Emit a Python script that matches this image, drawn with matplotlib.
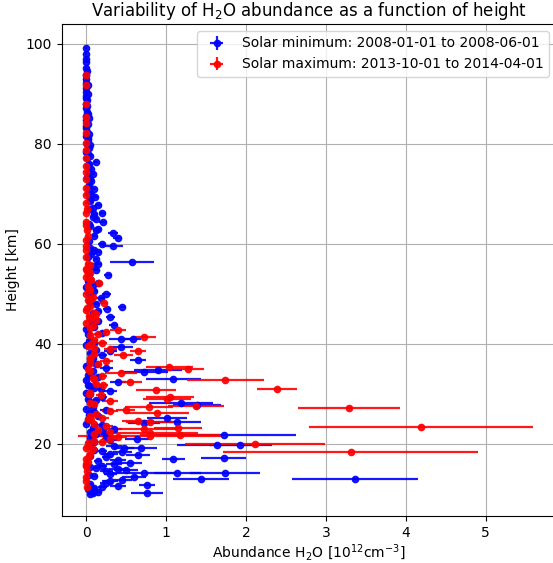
import matplotlib
matplotlib.use('Agg')
import matplotlib.pyplot as plt

# solar minimum profile points: height [km], abundance, abundance error
min_h = [99.2, 97.0, 96.4, 95.2, 93.8, 93.0, 92.2, 91.2, 90.4, 89.6,
         88.8, 88.0, 87.2, 86.4, 85.6, 84.8, 84.0, 83.2, 82.4, 81.6,
         80.8, 80.0, 79.2, 78.4, 77.6, 76.4, 75.8, 75.0, 74.2, 73.4,
         72.6, 71.8, 71.0, 70.2, 69.4, 68.6, 67.8, 67.0, 66.2, 65.4,
         64.4, 63.6, 62.8, 62.2, 61.2, 60.6, 59.6, 58.8, 58.0, 90.0,
         86.0, 82.0, 78.0, 74.0, 70.0, 66.0, 63.0, 61.5, 60.0, 57.4,
         56.4, 55.6, 54.8, 53.8, 53.0, 52.2, 51.4, 50.6, 50.0, 49.2,
         48.4, 47.4, 47.0, 46.2, 45.4, 44.6, 43.8, 43.0, 42.2, 41.0,
         41.0, 40.2, 39.4, 38.6, 37.8, 36.8, 36.0, 58.4, 55.0, 52.6,
         50.2, 48.0, 45.0, 43.4, 42.0, 39.8, 38.2, 37.2, 35.2, 34.8,
         34.4, 34.0, 33.4, 33.0, 32.4, 31.8, 31.2, 30.6, 30.0, 29.4,
         28.8, 28.2, 27.8, 27.4, 26.8, 26.2, 25.6, 25.2, 24.8, 24.4,
         24.2, 23.6, 23.0, 22.4, 21.8, 21.6, 21.0, 20.4, 19.8, 19.8,
         19.2, 19.2, 18.6, 18.0, 17.8, 17.2, 17.0, 16.6, 16.0, 15.4,
         15.0, 14.6, 14.2, 14.2, 14.2, 13.6, 13.0, 13.0, 12.6, 12.0,
         11.8, 11.4, 11.0, 10.6, 10.2, 10.0, 35.6, 34.6, 32.8, 31.6,
         30.2, 29.0, 27.0, 25.8, 24.0, 23.2, 22.6, 22.0, 20.8, 20.0,
         19.6, 18.4, 17.6, 16.8, 16.2, 15.6, 14.8, 14.0, 13.4, 12.8,
         12.2, 11.6, 10.8, 10.4]
min_x = [0.00, 0.00, 0.00, 0.00, 0.00, -0.01, 0.00, 0.00, -0.01, 0.00,
         0.01, -0.01, 0.00, 0.01, 0.00, -0.01, 0.02, 0.00, 0.01, -0.01,
         0.02, 0.01, 0.03, 0.00, 0.05, 0.12, 0.02, 0.06, 0.03, 0.01,
         0.06, 0.03, 0.09, 0.02, 0.11, 0.05, 0.15, 0.04, 0.20, 0.08,
         0.21, 0.05, 0.12, 0.33, 0.39, 0.03, 0.33, 0.10, 0.06, 0.02,
         0.02, 0.03, 0.02, 0.08, 0.06, 0.10, 0.15, 0.10, 0.20, 0.02,
         0.57, 0.08, 0.12, 0.27, 0.05, 0.15, 0.00, 0.10, 0.25, 0.18,
         0.05, 0.45, 0.26, 0.08, 0.30, 0.15, 0.34, 0.00, 0.20, 0.43,
         0.58, 0.10, 0.43, 0.30, 0.20, 0.64, 0.12, 0.15, 0.02, 0.02,
         0.03, 0.12, 0.05, 0.10, 0.02, 0.00, 0.05, 0.08, 0.25, 0.90,
         0.72, 0.05, 0.15, 1.09, 0.40, 0.02, 0.10, 0.30, 0.05, 0.20,
         0.12, 1.18, 1.39, 0.08, 0.25, 0.05, 0.15, 1.01, 0.02, 1.14,
         0.72, 0.10, 0.35, 0.05, 1.72, 0.25, 0.63, 0.10, 1.64, 1.93,
         0.68, 0.47, 0.20, 0.30, 0.65, 1.72, 1.09, 0.15, 0.35, 0.05,
         0.40, 0.25, 0.72, 1.14, 1.74, 0.10, 1.43, 3.36, 0.30, 0.05,
         0.76, 0.20, 0.02, 0.10, 0.76, 0.04, 0.00, 0.08, 0.00, 0.05,
         0.00, 0.02, 0.00, 0.03, 0.00, 0.08, 0.20, 0.12, 0.30, 0.05,
         0.35, 0.45, 0.05, 0.40, 0.55, 0.20, 0.50, 0.30, 0.60, 0.45,
         0.25, 0.40, 0.05, 0.15]
min_err = [0.01, 0.01, 0.01, 0.01, 0.01, 0.01, 0.01, 0.01, 0.01, 0.01,
           0.01, 0.01, 0.01, 0.01, 0.01, 0.01, 0.01, 0.01, 0.01, 0.01,
           0.01, 0.01, 0.02, 0.01, 0.02, 0.03, 0.01, 0.02, 0.02, 0.01,
           0.02, 0.02, 0.03, 0.01, 0.03, 0.02, 0.04, 0.02, 0.04, 0.03,
           0.05, 0.02, 0.04, 0.06, 0.06, 0.02, 0.13, 0.04, 0.03, 0.01,
           0.01, 0.01, 0.01, 0.03, 0.02, 0.03, 0.04, 0.03, 0.05, 0.01,
           0.28, 0.03, 0.04, 0.05, 0.02, 0.05, 0.01, 0.04, 0.06, 0.05,
           0.02, 0.05, 0.05, 0.03, 0.06, 0.05, 0.06, 0.01, 0.06, 0.15,
           0.10, 0.04, 0.15, 0.08, 0.06, 0.10, 0.04, 0.04, 0.01, 0.01,
           0.01, 0.04, 0.02, 0.03, 0.01, 0.01, 0.02, 0.03, 0.08, 0.30,
           0.30, 0.02, 0.05, 0.35, 0.10, 0.01, 0.04, 0.08, 0.02, 0.06,
           0.04, 0.40, 0.30, 0.03, 0.08, 0.02, 0.05, 0.25, 0.01, 0.30,
           0.20, 0.04, 0.10, 0.02, 0.90, 0.08, 0.15, 0.04, 0.50, 0.40,
           0.20, 0.12, 0.06, 0.10, 0.15, 0.28, 0.14, 0.05, 0.10, 0.02,
           0.12, 0.08, 0.40, 0.30, 0.44, 0.04, 0.35, 0.79, 0.10, 0.02,
           0.10, 0.06, 0.01, 0.04, 0.20, 0.02, 0.01, 0.03, 0.01, 0.02,
           0.01, 0.01, 0.01, 0.01, 0.01, 0.03, 0.06, 0.04, 0.08, 0.02,
           0.10, 0.12, 0.02, 0.10, 0.15, 0.06, 0.15, 0.08, 0.15, 0.12,
           0.08, 0.10, 0.02, 0.05]

# extra solar minimum points in the dense column near zero
min_col_h = [98.0, 94.6, 91.8, 89.2, 87.6, 85.2, 83.6, 81.2, 79.8, 77.2,
             76.0, 73.0, 71.4, 69.0, 67.2, 65.0, 64.0, 59.2, 57.0, 56.0,
             54.2, 51.8, 49.6, 46.6, 44.2, 40.6, 38.8, 36.4, 33.8, 31.0,
             28.4, 26.4, 23.8, 21.2, 18.8, 17.4, 15.2, 13.8, 11.2, 10.2]
min_col_x = [0.00, 0.01, 0.02, 0.00, 0.01, 0.03, 0.00, 0.02, 0.04, 0.01,
             0.03, 0.04, 0.02, 0.05, 0.08, 0.12, 0.03, 0.05, 0.12, 0.15,
             0.03, 0.08, 0.06, 0.14, 0.07, 0.03, 0.12, 0.04, 0.02, 0.18,
             0.05, 0.10, 0.20, 0.05, 0.10, 0.25, 0.12, 0.03, 0.10, 0.08]
min_col_err = [0.01, 0.01, 0.01, 0.01, 0.01, 0.01, 0.01, 0.01, 0.01, 0.01,
               0.01, 0.02, 0.01, 0.02, 0.02, 0.03, 0.01, 0.02, 0.03, 0.04,
               0.01, 0.02, 0.02, 0.04, 0.02, 0.01, 0.03, 0.02, 0.01, 0.05,
               0.02, 0.03, 0.05, 0.02, 0.03, 0.06, 0.03, 0.01, 0.03, 0.02]

# solar maximum profile points
max_h = [93.8, 91.8, 85.4, 84.2, 82.2, 78.8, 77.2, 75.6, 74.4, 71.2,
         69.8, 68.2, 66.2, 64.4, 63.8, 62.8, 60.8, 58.8, 57.4, 56.0,
         55.0, 54.2, 53.4, 52.2, 51.6, 50.8, 50.0, 49.4, 48.8, 48.2,
         47.6, 46.8, 46.2, 45.6, 44.8, 44.2, 43.6, 42.8, 42.4, 41.8,
         41.4, 40.8, 40.2, 39.6, 39.0, 38.6, 38.0, 37.8, 37.2, 36.6,
         36.0, 35.4, 35.0, 34.6, 34.2, 33.6, 33.0, 32.8, 32.4, 31.8,
         31.0, 30.8, 30.2, 29.4, 29.0, 28.6, 28.0, 27.6, 27.4, 27.2,
         26.8, 26.2, 25.6, 25.2, 24.6, 24.4, 24.0, 23.4, 23.2, 23.0,
         22.4, 22.2, 21.8, 21.6, 21.4, 21.0, 20.6, 20.0, 19.6, 18.4,
         18.0, 17.0, 15.6, 13.4, 11.4, 53.0, 49.0, 45.0, 40.0, 37.0,
         33.2, 30.0, 26.0, 24.8, 22.8, 20.4, 19.0, 16.4]
max_x = [0.00, 0.00, 0.00, 0.00, -0.01, 0.00, 0.00, -0.01, 0.00, -0.01,
         0.00, 0.00, -0.01, 0.00, 0.00, 0.01, 0.00, -0.01, 0.00, 0.02,
         0.00, 0.05, 0.00, 0.16, 0.02, 0.05, 0.00, 0.08, 0.02, 0.22,
         0.05, 0.00, 0.10, 0.03, 0.12, 0.00, 0.08, 0.40, 0.24, 0.05,
         0.72, 0.10, 0.20, 0.02, 0.30, 0.65, 0.10, 0.46, 0.05, 0.25,
         0.15, 1.04, 1.27, 0.05, 0.43, 0.20, 0.10, 1.74, 0.55, 0.21,
         2.39, 0.87, 0.05, 1.05, 1.01, 0.30, 0.10, 1.37, 0.78, 3.29,
         0.49, 0.89, 0.05, 0.20, 0.65, 0.80, 0.10, 4.19, 1.15, 0.72,
         0.30, 0.80, 1.17, 0.80, 0.39, 0.30, 0.10, 2.11, 0.02, 3.31,
         0.05, 0.00, -0.01, 0.00, 0.01, 0.03, 0.06, 0.04, 0.06, 0.04,
         0.08, 0.03, 0.12, 0.06, 0.15, 0.20, 0.08, 0.02]
max_err = [0.01, 0.01, 0.01, 0.01, 0.01, 0.01, 0.01, 0.01, 0.01, 0.01,
           0.01, 0.01, 0.01, 0.01, 0.01, 0.01, 0.01, 0.01, 0.01, 0.02,
           0.01, 0.02, 0.01, 0.04, 0.01, 0.02, 0.01, 0.03, 0.01, 0.05,
           0.02, 0.01, 0.03, 0.02, 0.04, 0.01, 0.03, 0.10, 0.06, 0.02,
           0.15, 0.04, 0.06, 0.01, 0.08, 0.10, 0.04, 0.12, 0.02, 0.08,
           0.05, 0.30, 0.20, 0.02, 0.20, 0.06, 0.04, 0.48, 0.15, 0.06,
           0.25, 0.25, 0.02, 0.30, 0.30, 0.10, 0.04, 0.35, 0.30, 0.64,
           0.12, 0.40, 0.02, 0.08, 0.20, 0.30, 0.04, 1.40, 0.30, 0.40,
           0.10, 0.60, 0.50, 0.90, 0.12, 0.10, 0.04, 0.88, 0.01, 1.60,
           0.02, 0.01, 0.01, 0.01, 0.01, 0.01, 0.02, 0.02, 0.02, 0.02,
           0.03, 0.01, 0.04, 0.02, 0.05, 0.06, 0.03, 0.01]

# extra solar maximum points in the dense column near zero
max_col_h = [88.0, 80.2, 73.0, 67.0, 61.6, 59.6, 55.8, 54.6, 52.8, 51.0,
             47.2, 46.0, 43.2, 42.0, 39.2, 36.2, 35.0, 32.0, 29.8, 28.2,
             26.6, 25.0, 23.6, 22.0, 20.2, 19.2, 17.6, 16.0, 14.6, 12.6]
max_col_x = [0.00, 0.00, 0.00, 0.01, 0.02, 0.00, 0.04, 0.01, 0.06, 0.03,
             0.01, 0.12, 0.05, 0.15, 0.10, 0.05, 0.02, 0.12, 0.18, 0.05,
             0.30, 0.02, 0.25, 0.10, 0.02, 0.00, 0.03, 0.00, 0.01, 0.00]
max_col_err = [0.01, 0.01, 0.01, 0.01, 0.01, 0.01, 0.02, 0.01, 0.02, 0.01,
               0.01, 0.04, 0.02, 0.05, 0.03, 0.02, 0.01, 0.04, 0.06, 0.02,
               0.10, 0.01, 0.08, 0.03, 0.01, 0.01, 0.01, 0.01, 0.01, 0.01]

min_label = 'Solar minimum: 2008-01-01 to 2008-06-01'
max_label = 'Solar maximum: 2013-10-01 to 2014-04-01'

fig = plt.figure(figsize=(5.53, 5.63), dpi=100)
ax = fig.add_axes([0.1116, 0.0835, 0.8934, 0.874])

ax.errorbar(min_x + min_col_x, min_h + min_col_h, xerr=min_err + min_col_err,
            yerr=0.2, fmt='o', color='blue', markersize=4.5, elinewidth=1.6,
            alpha=0.9, label=min_label)
ax.errorbar(max_x + max_col_x, max_h + max_col_h, xerr=max_err + max_col_err,
            yerr=0.2, fmt='o', color='red', markersize=4.5, elinewidth=1.6,
            alpha=0.9, label=max_label)

ax.set_xlim(-0.31, 5.88)
ax.set_ylim(5.6, 104.0)
ax.grid(True)
ax.set_title('Variability of H$_2$O abundance as a function of height')
ax.set_xlabel('Abundance H$_2$O [$10^{12}$cm$^{-3}$]', labelpad=2)
ax.set_ylabel('Height [km]')
ax.legend(loc='upper right')

plt.savefig('out.png', dpi=100)
